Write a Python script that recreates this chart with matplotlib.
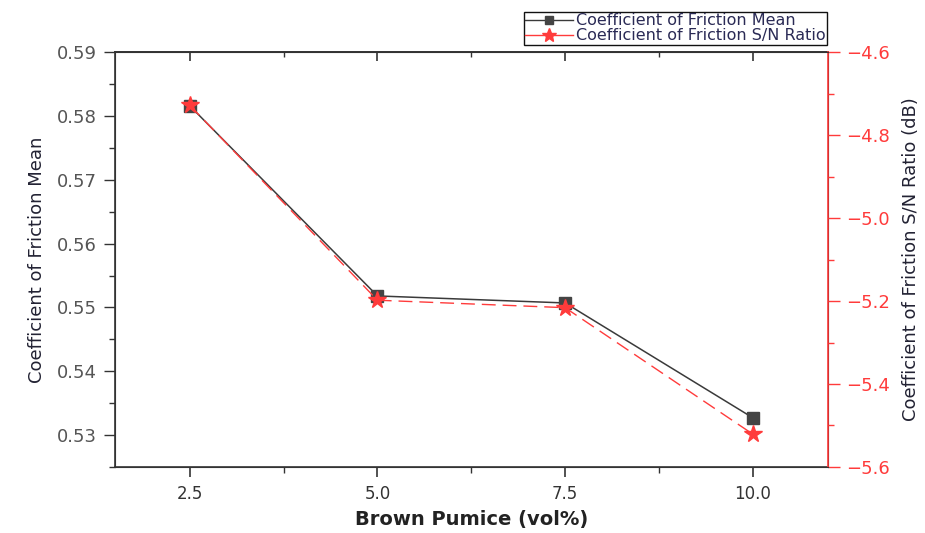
import matplotlib
matplotlib.use("Agg")
import matplotlib.pyplot as plt
from matplotlib.ticker import MultipleLocator, NullFormatter
from matplotlib.lines import Line2D

plt.rcParams['font.family'] = ['DejaVu Sans']

# data
pumice = [2.5, 5.0, 7.5, 10.0]
cof_mean = [0.5816, 0.5518, 0.5507, 0.5327]
cof_sn = [-4.728, -5.198, -5.216, -5.521]

gray_txt = '#555555'
red = '#ff3b3b'

fig = plt.figure(figsize=(9.25, 5.33), dpi=100)
ax = fig.add_axes([0.124, 0.124, 0.771, 0.778])
ax2 = ax.twinx()

ax.plot(pumice, cof_mean, color='#3a3a3a', lw=1.1, marker='s', ms=8.5,
        mfc='#444444', mec='#444444', zorder=3)
ax2.plot(pumice, cof_sn, color=red, lw=1.0, ls=(0, (10, 5)), marker='*', ms=13,
         mfc=red, mec=red, zorder=2)

ax.set_xlim(1.5, 11.0)
ax.set_ylim(0.525, 0.59)
ax2.set_ylim(-5.6, -4.6)

ax.xaxis.set_minor_locator(MultipleLocator(1.25))
ax.yaxis.set_minor_locator(MultipleLocator(0.005))
ax2.yaxis.set_minor_locator(MultipleLocator(0.1))

ax.set_xticks(pumice)
ax.set_xticklabels(['2.5', '5.0', '7.5', '10.0'])
ax.set_yticks([0.53, 0.54, 0.55, 0.56, 0.57, 0.58, 0.59])
ax.set_yticklabels(['0.53', '0.54', '0.55', '0.56', '0.57', '0.58', '0.59'])
ax2.set_yticks([-5.6, -5.4, -5.2, -5.0, -4.8, -4.6])
ax2.set_yticklabels(['\u22125.6', '\u22125.4', '\u22125.2', '\u22125.0', '\u22124.8', '\u22124.6'])

ax.tick_params(axis='x', which='both', direction='out', top=False, labelsize=12,
               colors='#333333', labelcolor='#333333', pad=6)
ax.tick_params(axis='x', which='major', length=7, width=1.2)
ax.tick_params(axis='x', which='minor', length=4, width=1.0)
ax.tick_params(axis='y', which='both', direction='out', labelsize=13,
               colors='#333333', labelcolor=gray_txt, pad=5)
ax.tick_params(axis='y', which='major', length=8, width=1.0)
ax.tick_params(axis='y', which='minor', length=4.5, width=1.0)
ax2.tick_params(axis='y', which='both', direction='out', labelsize=13,
                colors=red, labelcolor=red, pad=5)
ax2.tick_params(axis='y', which='major', length=8.5, width=1.0)
ax2.tick_params(axis='y', which='minor', length=4.5, width=1.0)

# top axis: mirrored ticks pointing inward
top = ax.secondary_xaxis('top')
top.set_xticks(pumice)
top.xaxis.set_minor_locator(MultipleLocator(1.25))
top.xaxis.set_major_formatter(NullFormatter())
top.tick_params(axis='x', which='both', direction='in', colors='#333333')
top.tick_params(axis='x', which='major', length=6.5, width=1.2)
top.tick_params(axis='x', which='minor', length=3.5, width=1.0)
top.spines['top'].set_color('#333333')
top.spines['top'].set_linewidth(1.2)

for s in ['left', 'bottom', 'top']:
    ax.spines[s].set_color('#333333')
    ax.spines[s].set_linewidth(1.2)
ax2.spines['right'].set_color(red)
ax2.spines['right'].set_linewidth(1.2)
ax2.spines['top'].set_color('#333333')
ax2.spines['left'].set_color('#333333')
ax2.spines['bottom'].set_color('#333333')

ax.set_ylabel('Coefficient of Friction Mean', fontsize=13, color='#222233', labelpad=8)
ax2.set_ylabel('Coefficient of Friction S/N Ratio (dB)', fontsize=13, color='#222233', labelpad=8)
ax.set_xlabel('Brown Pumice (vol%)', fontsize=14, fontweight='bold', color='#222222', labelpad=5)

handles = [
    Line2D([], [], color='#3a3a3a', lw=1.0, marker='s', ms=6, mfc='#444444', mec='#444444'),
    Line2D([], [], color=red, lw=1.0, marker='*', ms=10, mfc=red, mec=red),
]
leg = fig.legend(handles, ['Coefficient of Friction Mean', 'Coefficient of Friction S/N Ratio'],
                 loc='upper left', bbox_to_anchor=(0.566, 0.978), fontsize=11.5,
                 frameon=True, fancybox=False, edgecolor='#111111', framealpha=1,
                 borderpad=0.1, labelspacing=0.0, handlelength=3.0, handletextpad=0.2,
                 borderaxespad=0)
leg.get_frame().set_linewidth(1.0)
for t in leg.get_texts():
    t.set_color('#2a2a55')

fig.savefig('out.png', dpi=100)
